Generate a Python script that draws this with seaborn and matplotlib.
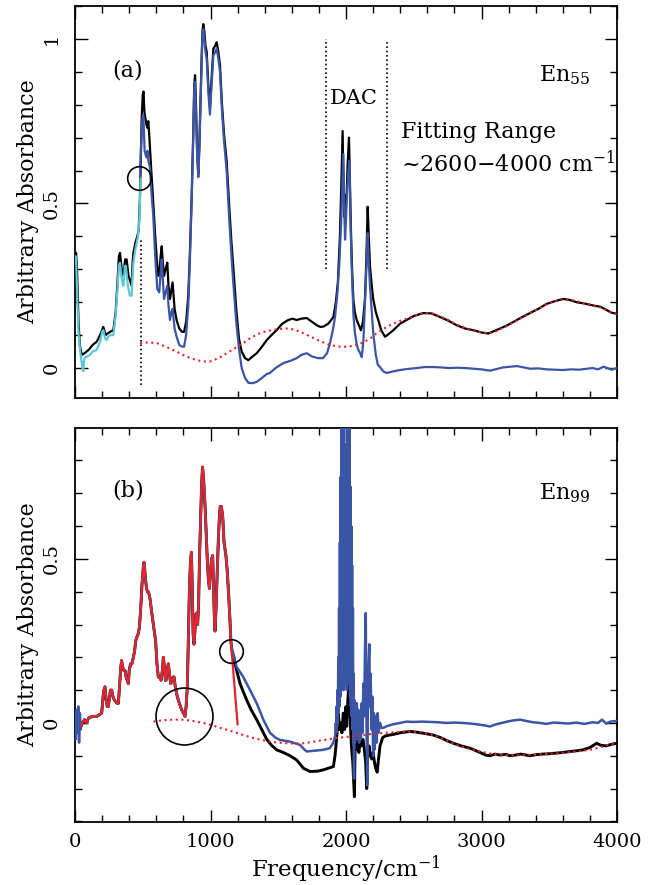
import matplotlib
matplotlib.use("Agg")
import matplotlib.pyplot as plt
import seaborn as sns
from matplotlib.ticker import MultipleLocator, FuncFormatter

# ---------------- data: panel (a) En55 ----------------
a_black_x = [0, 8, 15, 25, 35, 50, 70, 100, 130, 160,
             185, 209, 225, 240, 260, 283, 300, 312, 324, 332,
             345, 357, 370, 381, 395, 410, 418, 425, 431, 445,
             460, 470, 478, 485, 492, 500, 506, 512, 519, 527,
             534, 541, 549, 563, 578, 592, 607, 615, 622, 632,
             640, 648, 657, 668, 681, 690, 701, 712, 720, 735,
             750, 770, 790, 805, 820, 836, 848, 861, 872, 880,
             886, 893, 902, 910, 918, 927, 935, 942, 947, 955,
             963, 972, 984, 996, 1008, 1021, 1035, 1046, 1058, 1070,
             1085, 1100, 1119, 1140, 1155, 1168, 1190, 1210, 1230, 1255,
             1279, 1310, 1341, 1380, 1415, 1450, 1488, 1530, 1574, 1605,
             1636, 1670, 1710, 1750, 1784, 1810, 1833, 1870, 1907, 1925,
             1940, 1955, 1965, 1975, 1982, 1988, 1995, 2005, 2012, 2022,
             2030, 2037, 2045, 2054, 2065, 2079, 2095, 2110, 2125, 2140,
             2150, 2160, 2168, 2177, 2190, 2201, 2220, 2238, 2260, 2288,
             2320, 2349, 2400, 2447, 2500, 2570, 2630, 2694, 2750, 2817,
             2880, 2940, 3000, 3050, 3090, 3137, 3190, 3235, 3300, 3358,
             3420, 3481, 3540, 3604, 3650, 3702, 3760, 3825, 3880, 3924,
             3960, 4000]
a_black_y = [0.33, 0.35, 0.30, 0.15, 0.07, 0.04, 0.045, 0.055, 0.07, 0.08,
             0.10, 0.125, 0.10, 0.105, 0.11, 0.115, 0.17, 0.25, 0.34, 0.35,
             0.30, 0.28, 0.33, 0.33, 0.28, 0.26, 0.25, 0.32, 0.35, 0.38,
             0.40, 0.42, 0.50, 0.62, 0.76, 0.83, 0.84, 0.78, 0.76, 0.74,
             0.73, 0.75, 0.70, 0.60, 0.50, 0.40, 0.31, 0.28, 0.29, 0.34,
             0.37, 0.32, 0.28, 0.30, 0.32, 0.25, 0.21, 0.24, 0.26, 0.18,
             0.145, 0.12, 0.11, 0.11, 0.14, 0.22, 0.35, 0.52, 0.70, 0.86,
             0.89, 0.80, 0.65, 0.59, 0.68, 0.82, 0.95, 1.03, 1.045, 1.02,
             0.98, 0.96, 0.86, 0.79, 0.88, 0.97, 0.98, 0.99, 0.96, 0.92,
             0.80, 0.71, 0.63, 0.48, 0.38, 0.31, 0.18, 0.09, 0.05, 0.03,
             0.024, 0.035, 0.045, 0.065, 0.085, 0.10, 0.115, 0.135, 0.146, 0.15,
             0.146, 0.15, 0.152, 0.14, 0.13, 0.125, 0.126, 0.135, 0.155, 0.20,
             0.26, 0.40, 0.55, 0.72, 0.55, 0.46, 0.52, 0.53, 0.62, 0.70,
             0.55, 0.41, 0.30, 0.21, 0.17, 0.146, 0.13, 0.115, 0.14, 0.21,
             0.33, 0.49, 0.40, 0.31, 0.25, 0.21, 0.17, 0.146, 0.115, 0.095,
             0.105, 0.115, 0.135, 0.146, 0.158, 0.167, 0.166, 0.155, 0.145, 0.13,
             0.12, 0.115, 0.108, 0.105, 0.112, 0.12, 0.13, 0.14, 0.155, 0.167,
             0.18, 0.195, 0.203, 0.21, 0.207, 0.20, 0.196, 0.19, 0.186, 0.176,
             0.168, 0.165]

a_blue_x = [480, 486, 492, 498, 504, 510, 514, 520, 528, 535,
            541, 553, 565, 578, 592, 607, 622, 632, 640, 648,
            657, 668, 681, 690, 701, 712, 720, 735, 750, 770,
            790, 805, 820, 836, 848, 861, 872, 880, 886, 893,
            902, 910, 918, 927, 935, 942, 947, 955, 963, 972,
            984, 996, 1008, 1021, 1035, 1046, 1058, 1070, 1085, 1100,
            1119, 1140, 1155, 1168, 1190, 1210, 1230, 1255, 1280, 1310,
            1341, 1380, 1415, 1439, 1480, 1537, 1590, 1636, 1670, 1710,
            1750, 1796, 1830, 1860, 1882, 1905, 1919, 1935, 1950, 1965,
            1980, 1986, 1993, 2000, 2010, 2018, 2025, 2033, 2042, 2055,
            2066, 2080, 2091, 2105, 2116, 2128, 2140, 2150, 2160, 2168,
            2177, 2190, 2201, 2220, 2235, 2251, 2275, 2300, 2350, 2399,
            2450, 2520, 2580, 2645, 2700, 2760, 2820, 2880, 2940, 3000,
            3063, 3110, 3160, 3210, 3260, 3310, 3360, 3420, 3480, 3540,
            3600, 3660, 3720, 3780, 3820, 3860, 3900, 3930, 3960, 4000]
a_blue_y = [0.58, 0.66, 0.71, 0.76, 0.77, 0.70, 0.66, 0.65, 0.64, 0.66,
            0.63, 0.61, 0.53, 0.46, 0.34, 0.24, 0.23, 0.29, 0.33, 0.27,
            0.21, 0.23, 0.25, 0.19, 0.146, 0.17, 0.18, 0.12, 0.095, 0.07,
            0.065, 0.065, 0.10, 0.19, 0.33, 0.51, 0.69, 0.85, 0.87, 0.78,
            0.64, 0.58, 0.67, 0.81, 0.94, 1.02, 1.03, 1.00, 0.96, 0.94,
            0.84, 0.77, 0.86, 0.95, 0.96, 0.97, 0.94, 0.90, 0.78, 0.69,
            0.60, 0.44, 0.34, 0.26, 0.14, 0.06, 0.0, -0.03, -0.045, -0.046,
            -0.042, -0.03, -0.018, -0.015, 0.0, 0.015, 0.022, 0.03, 0.04, 0.045,
            0.035, 0.03, 0.03, 0.045, 0.076, 0.12, 0.155, 0.22, 0.31, 0.45,
            0.65, 0.50, 0.39, 0.45, 0.55, 0.60, 0.63, 0.45, 0.31, 0.16,
            0.106, 0.07, 0.055, 0.045, 0.033, 0.08, 0.20, 0.30, 0.41, 0.32,
            0.25, 0.17, 0.106, 0.04, 0.01, 0.003, -0.01, -0.015, -0.01, -0.006,
            -0.003, 0.0, 0.003, 0.003, 0.002, 0.0, 0.001, 0.0, -0.002, -0.004,
            -0.008, -0.003, 0.002, 0.004, 0.006, 0.002, -0.002, -0.001, -0.004, -0.005,
            -0.006, -0.004, -0.005, -0.002, 0.0, -0.004, 0.004, 0.0, -0.005, 0.0]

a_cyan_x = [0, 5, 10, 17, 27, 37, 48, 55, 61, 66,
            74, 90, 110, 130, 160, 185, 200, 209, 222, 234,
            245, 260, 283, 300, 312, 324, 332, 345, 357, 368,
            376, 390, 405, 418, 425, 431, 445, 455, 465, 475,
            485]
a_cyan_y = [0.32, 0.34, 0.31, 0.21, 0.10, 0.055, 0.02, 0.0, -0.01, 0.02,
            0.033, 0.035, 0.04, 0.05, 0.055, 0.08, 0.11, 0.115, 0.09, 0.085,
            0.095, 0.10, 0.10, 0.16, 0.23, 0.31, 0.32, 0.27, 0.25, 0.31,
            0.31, 0.25, 0.22, 0.22, 0.28, 0.32, 0.36, 0.38, 0.40, 0.45,
            0.58]

a_fit_x = [480, 540, 603, 680, 750, 820, 898, 950, 996, 1060,
           1119, 1180, 1242, 1300, 1365, 1420, 1464, 1520, 1562, 1620,
           1685, 1750, 1808, 1870, 1930, 1980, 2030, 2080, 2128, 2180,
           2226, 2280, 2325, 2390, 2447, 2510, 2570, 2630, 2694, 2750,
           2817, 2880, 2940, 3000, 3050, 3100, 3137, 3190, 3235, 3300,
           3358, 3420, 3481, 3540, 3604, 3650, 3702, 3760, 3825, 3880,
           3924, 3960, 4000]
a_fit_y = [0.076, 0.078, 0.076, 0.063, 0.05, 0.035, 0.024, 0.02, 0.02, 0.03,
           0.045, 0.06, 0.076, 0.093, 0.106, 0.113, 0.116, 0.119, 0.12, 0.117,
           0.106, 0.093, 0.082, 0.072, 0.066, 0.064, 0.066, 0.071, 0.078, 0.09,
           0.106, 0.12, 0.13, 0.142, 0.15, 0.16, 0.167, 0.167, 0.157, 0.147,
           0.132, 0.121, 0.114, 0.108, 0.106, 0.11, 0.118, 0.128, 0.138, 0.153,
           0.166, 0.18, 0.194, 0.203, 0.209, 0.208, 0.203, 0.197, 0.19, 0.184,
           0.176, 0.169, 0.163]

a_marker_x = [485, 1850, 2300]          # dotted vertical markers
a_marker_lo = [-0.052, 0.30, 0.30]
a_marker_hi = [0.395, 1.0, 0.99]
a_circle_x, a_circle_y = [472], [0.578]

# ---------------- data: panel (b) En99 ----------------
b_low_x = [45, 55, 70, 86, 100, 130, 160, 180, 197, 205,
           213, 221, 230, 238, 246, 255, 262, 271, 280, 290,
           300, 310, 320, 330, 338, 344, 352, 360, 369, 377,
           385, 394, 400, 410, 420, 431, 440, 448, 455, 465,
           475, 482, 488, 494, 500, 505, 509, 514, 520, 528,
           535, 541, 548, 555, 565, 575, 585, 595, 605, 615,
           625, 635, 645, 652, 660, 667, 672, 680, 689, 697,
           706, 715, 725, 731, 740, 755, 770, 787, 800, 812,
           820, 829, 836, 844, 852, 859, 866, 872, 878, 885,
           891, 898, 905, 912, 920, 927, 934, 941, 948, 955,
           960, 968, 976, 984, 992, 999, 1008, 1016, 1022, 1028,
           1033, 1040, 1050, 1058, 1066, 1072, 1080, 1090, 1100, 1107,
           1114, 1124, 1134, 1144, 1150]
b_low_y = [-0.01, 0.0, 0.01, 0.0, 0.015, 0.02, 0.02, 0.025, 0.03, 0.07,
           0.10, 0.11, 0.07, 0.05, 0.05, 0.08, 0.10, 0.10, 0.08, 0.07,
           0.065, 0.06, 0.06, 0.12, 0.17, 0.19, 0.17, 0.16, 0.16, 0.14,
           0.13, 0.12, 0.16, 0.18, 0.18, 0.20, 0.22, 0.25, 0.26, 0.27,
           0.29, 0.33, 0.37, 0.42, 0.45, 0.48, 0.49, 0.47, 0.44, 0.41,
           0.40, 0.40, 0.39, 0.375, 0.34, 0.31, 0.28, 0.25, 0.18, 0.14,
           0.14, 0.13, 0.16, 0.20, 0.17, 0.13, 0.13, 0.16, 0.18, 0.15,
           0.12, 0.13, 0.14, 0.14, 0.11, 0.08, 0.06, 0.04, 0.03, 0.02,
           0.05, 0.11, 0.25, 0.40, 0.49, 0.52, 0.40, 0.27, 0.24, 0.28,
           0.33, 0.335, 0.30, 0.36, 0.52, 0.62, 0.72, 0.78, 0.75, 0.70,
           0.66, 0.58, 0.50, 0.44, 0.41, 0.46, 0.50, 0.51, 0.42, 0.33,
           0.28, 0.34, 0.46, 0.56, 0.63, 0.66, 0.66, 0.63, 0.55, 0.53,
           0.51, 0.46, 0.39, 0.31, 0.25]

b_red_tail_x = [1200]
b_red_tail_y = [-0.005]

b_black_hi_x = [1158, 1170, 1193, 1218, 1242, 1267, 1300, 1341, 1378, 1415,
                1450, 1488, 1537, 1587, 1636, 1685, 1734, 1790, 1833, 1870,
                1907, 1919, 1930, 1944, 1952, 1960, 1970, 1980, 1990, 2000,
                2005, 2015, 2025, 2032, 2040, 2050, 2062, 2068, 2075, 2085,
                2095, 2105, 2115, 2125, 2135, 2145, 2153, 2160, 2170, 2180,
                2190, 2200, 2210, 2220, 2230, 2240, 2251, 2270, 2288, 2320,
                2349, 2400, 2472, 2520, 2580, 2645, 2700, 2750, 2793, 2850,
                2915, 2960, 3000, 3030, 3063, 3100, 3137, 3180, 3210, 3250,
                3290, 3330, 3358, 3400, 3450, 3500, 3550, 3600, 3653, 3700,
                3750, 3800, 3850, 3880, 3920, 3960, 4000]
b_black_hi_y = [0.22, 0.20, 0.16, 0.12, 0.095, 0.07, 0.04, 0.01, -0.02, -0.05,
                -0.068, -0.082, -0.09, -0.10, -0.113, -0.138, -0.148, -0.147, -0.143, -0.138,
                -0.133, -0.10, -0.05, 0.03, -0.02, 0.0, -0.03, 0.03, -0.02, 0.05,
                -0.01, 0.08, 0.13, 0.0, -0.07, -0.12, -0.225, -0.05, -0.08, -0.05,
                -0.09, -0.05, -0.07, -0.05, -0.08, -0.12, -0.20, -0.10, -0.07, -0.10,
                -0.11, -0.09, -0.12, -0.14, -0.15, -0.11, -0.07, -0.045, -0.04, -0.037,
                -0.035, -0.03, -0.026, -0.028, -0.032, -0.037, -0.045, -0.055, -0.062, -0.07,
                -0.077, -0.085, -0.092, -0.098, -0.10, -0.095, -0.098, -0.096, -0.10, -0.098,
                -0.095, -0.098, -0.10, -0.097, -0.095, -0.094, -0.092, -0.09, -0.087, -0.085,
                -0.082, -0.075, -0.062, -0.068, -0.07, -0.065, -0.062]

b_blue_lo_x = [0, 6, 12, 18, 24, 30, 36, 42]
b_blue_lo_y = [0.02, -0.05, 0.04, -0.03, 0.05, -0.06, 0.03, -0.02]

b_blue_hi_x = [1158, 1170, 1193, 1218, 1242, 1267, 1292, 1341, 1390, 1439,
               1480, 1513, 1587, 1661, 1690, 1710, 1760, 1833, 1880, 1907,
               1920, 1925, 1928, 1931, 1934, 1937, 1940, 1943, 1946, 1949,
               1952, 1955, 1958, 1961, 1964, 1967, 1970, 1973, 1976, 1979,
               1982, 1985, 1988, 1991, 1994, 1997, 2000, 2003, 2006, 2009,
               2012, 2015, 2018, 2021, 2024, 2027, 2030, 2033, 2036, 2039,
               2042, 2045, 2048, 2051, 2054, 2057, 2059, 2062, 2066, 2070,
               2075, 2080, 2085, 2091, 2097, 2103, 2110, 2116, 2122, 2128,
               2134, 2140, 2146, 2150, 2154, 2157, 2162, 2167, 2172, 2177,
               2182, 2188, 2194, 2200, 2206, 2212, 2218, 2226, 2234, 2240,
               2251, 2262, 2276, 2300, 2340, 2400, 2447, 2500, 2560, 2620,
               2680, 2740, 2800, 2860, 2920, 2980, 3030, 3063, 3100, 3150,
               3200, 3240, 3284, 3330, 3380, 3430, 3480, 3530, 3580, 3640,
               3700, 3760, 3820, 3860, 3890, 3920, 3950, 4000]
b_blue_hi_y = [0.225, 0.21, 0.17, 0.155, 0.14, 0.12, 0.10, 0.06, 0.01, -0.03,
               -0.045, -0.052, -0.057, -0.067, -0.08, -0.087, -0.085, -0.082, -0.077, -0.06,
               -0.04, 0.0, -0.03, 0.05, -0.01, 0.10, 0.0, 0.20, 0.03, 0.35,
               0.05, 0.55, 0.08, 0.75, 0.10, 0.95, 0.12, 0.95, 0.15, 0.95,
               0.10, 0.95, 0.18, 0.85, 0.12, 0.72, 0.15, 0.70, 0.10, 0.95,
               0.20, 0.95, 0.12, 0.95, 0.15, 0.90, 0.08, 0.72, 0.05, 0.60,
               0.02, 0.48, -0.02, 0.35, -0.06, 0.15, -0.17, 0.07, -0.06, 0.06,
               -0.03, 0.06, -0.05, 0.04, -0.06, 0.03, -0.05, 0.06, -0.03, 0.12,
               0.02, 0.22, 0.335, 0.05, -0.10, -0.19, 0.05, 0.18, 0.24, 0.05,
               0.15, -0.02, 0.08, -0.10, 0.03, -0.08, 0.02, -0.06, 0.03, -0.03,
               0.0, -0.015, -0.015, -0.01, -0.005, 0.0, 0.004, 0.003, 0.004, 0.003,
               0.002, 0.0, 0.001, 0.0, -0.002, -0.005, -0.008, -0.011, -0.005, 0.0,
               0.005, 0.008, 0.01, 0.006, 0.002, 0.0, -0.003, 0.001, 0.0, -0.002,
               0.001, -0.003, 0.002, 0.0, 0.01, -0.002, 0.004, 0.006]

b_fit_x = [578, 650, 720, 800, 870, 947, 1010, 1070, 1130, 1193,
           1250, 1316, 1380, 1439, 1500, 1562, 1620, 1685, 1750, 1808,
           1870, 1931, 2000, 2060, 2128, 2200, 2300, 2400, 2472, 2550,
           2645, 2730, 2817, 2900, 2989, 3070, 3161, 3250, 3330, 3420,
           3500, 3579, 3650, 3720, 3801, 3870, 3930, 3985, 4000]
b_fit_y = [0.004, 0.008, 0.01, 0.01, 0.006, 0.0, -0.007, -0.015, -0.022, -0.03,
           -0.038, -0.046, -0.052, -0.057, -0.06, -0.062, -0.063, -0.062, -0.058, -0.054,
           -0.05, -0.046, -0.043, -0.04, -0.037, -0.033, -0.03, -0.027, -0.026, -0.028,
           -0.037, -0.05, -0.067, -0.078, -0.087, -0.094, -0.098, -0.099, -0.098, -0.096,
           -0.094, -0.092, -0.089, -0.086, -0.082, -0.075, -0.068, -0.062, -0.061]

b_circle_x = [801, 1151]
b_circle_y = [0.022, 0.22]
b_circle_d = [41, 17]   # marker diameters (pt)

# ---------------- style ----------------
sns.set_style("ticks")
plt.rcParams['font.family'] = ['DejaVu Serif']
plt.rcParams['mathtext.fontset'] = 'dejavuserif'
for key in ('text.color', 'axes.labelcolor', 'xtick.color', 'ytick.color',
            'axes.edgecolor'):
    plt.rcParams[key] = 'black'

BLACK = "#000000"
BLUE = "#3a55a5"
CYAN = "#5cc8d6"
RED = "#e8242b"
LW = 1.6
DOT = (0, (1, 1.7))
FS = 16

fig = plt.figure(figsize=(6.6, 8.85), dpi=100)
ax1 = fig.add_axes([75/660, 1-398/885, 542/660, 392/885])
ax2 = fig.add_axes([75/660, 1-822/885, 542/660, 394/885])


def line(ax, x, y, color, lw=LW, ls='-', z=2):
    sns.lineplot(x=x, y=y, ax=ax, color=color, lw=lw, linestyle=ls,
                 sort=False, estimator=None, legend=False, zorder=z)


# panel (a)
line(ax1, a_black_x, a_black_y, BLACK, z=2)
line(ax1, a_cyan_x, a_cyan_y, CYAN, z=3)
line(ax1, a_blue_x, a_blue_y, BLUE, z=3)
line(ax1, a_fit_x, a_fit_y, RED, lw=1.5, ls=DOT, z=4)
ax1.vlines(a_marker_x, a_marker_lo, a_marker_hi, colors=BLACK, lw=1.2,
           linestyles=[(0, (1, 1.6))], zorder=5)
ax1.plot(a_circle_x, a_circle_y, 'o', ms=17, mfc='none', mec=BLACK, mew=1.2, zorder=6)

ax1.text(391, 0.905, "(a)", fontsize=FS, ha='center', va='center')
ax1.text(3805, 0.89, r"En$_{55}$", fontsize=FS, ha='right', va='center')
ax1.text(2059, 0.82, "DAC", fontsize=15, ha='center', va='center')
ax1.text(2405, 0.717, "Fitting Range", fontsize=FS, ha='left', va='center')
ax1.text(2405, 0.62, r"~2600$-$4000 cm$^{-1}$", fontsize=FS, ha='left', va='center')

# panel (b)
b_black_x = b_low_x + b_black_hi_x
b_black_y = b_low_y + b_black_hi_y
b_blue_x = b_blue_lo_x + b_low_x + b_blue_hi_x
b_blue_y = b_blue_lo_y + b_low_y + b_blue_hi_y
b_red_x = b_low_x + b_red_tail_x
b_red_y = b_low_y + b_red_tail_y

line(ax2, b_black_x, b_black_y, BLACK, lw=2.1, z=2)
line(ax2, b_blue_x, b_blue_y, BLUE, lw=1.8, z=3)
line(ax2, b_red_x, b_red_y, RED, z=4)
line(ax2, b_fit_x, b_fit_y, RED, lw=1.5, ls=DOT, z=5)
for cx, cy, d in zip(b_circle_x, b_circle_y, b_circle_d):
    ax2.plot([cx], [cy], 'o', ms=d, mfc='none', mec=BLACK, mew=1.2, zorder=6)

ax2.text(391, 0.707, "(b)", fontsize=FS, ha='center', va='center')
ax2.text(3805, 0.70, r"En$_{99}$", fontsize=FS, ha='right', va='center')

# axes formatting
for ax, ylim in ((ax1, (-0.091, 1.10)), (ax2, (-0.302, 0.899))):
    ax.set_xlim(0, 4000)
    ax.set_ylim(*ylim)
    ax.xaxis.set_major_locator(MultipleLocator(1000))
    ax.xaxis.set_minor_locator(MultipleLocator(200))
    ax.yaxis.set_major_locator(MultipleLocator(0.5))
    ax.yaxis.set_minor_locator(MultipleLocator(0.1))
    ax.yaxis.set_major_formatter(FuncFormatter(lambda v, _: f"{v:g}"))
    ax.tick_params(which='both', direction='in', top=True, right=True,
                   width=1.0, labelsize=14, color='black', labelcolor='black')
    ax.tick_params(axis='x', pad=8)
    ax.tick_params(axis='y', pad=10, labelrotation=90)
    ax.tick_params(which='major', length=9)
    ax.tick_params(which='minor', length=5)
    for lab in ax.get_yticklabels():
        lab.set_va('center')
    for s in ax.spines.values():
        s.set_linewidth(1.3)
        s.set_color('black')
    ax.set_ylabel("Arbitrary Absorbance", fontsize=FS, labelpad=3, color='black')
    ax.set_xlabel("")

ax1.tick_params(axis='x', labelbottom=False)
ax2.set_xlabel(r"Frequency/cm$^{-1}$", fontsize=16.5, labelpad=2, color='black')

fig.savefig("out.png", dpi=100)
